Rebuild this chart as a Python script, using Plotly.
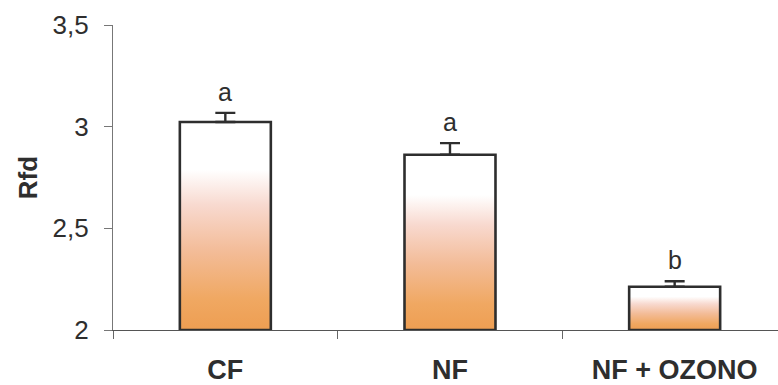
import plotly.graph_objects as go

# Data
categories = ["CF", "NF", "NF + OZONO"]
rfd_mean = [3.023, 2.862, 2.213]
rfd_err = [0.045, 0.057, 0.027]
letters = ["a", "a", "b"]
y_ticks = [2, 2.5, 3, 3.5]

BASE = 2.0
BAR_W = 0.405
INK = "#2e2e2e"
FONT = "Liberation Sans, Arial, sans-serif"

# white at the top fading through pink into orange at the bottom
gradient = [
    [0.0, "#EE9E52"],
    [0.15, "#F0A862"],
    [0.38, "#F3BC98"],
    [0.6, "#F8D9CF"],
    [0.77, "#FFFFFF"],
    [1.0, "#FFFFFF"],
]

fig = go.Figure()

# each bar is a filled rectangle so it can carry a vertical gradient
for i, v in enumerate(rfd_mean):
    x0, x1 = i - BAR_W / 2, i + BAR_W / 2
    fig.add_trace(go.Scatter(
        x=[x0, x0, x1, x1, x0],
        y=[BASE, v, v, BASE, BASE],
        mode="lines",
        fill="toself",
        fillgradient=dict(type="vertical", colorscale=gradient),
        line=dict(color=INK, width=2.6),
        hoverinfo="skip",
        showlegend=False,
    ))

# upper error bars
fig.add_trace(go.Scatter(
    x=list(range(len(categories))),
    y=rfd_mean,
    mode="markers",
    marker=dict(size=1, opacity=0),
    error_y=dict(type="data", array=rfd_err, arrayminus=[0] * len(rfd_err),
                 symmetric=False, width=10, thickness=2.4, color=INK),
    showlegend=False,
))

# significance letters
for i, (v, e, t) in enumerate(zip(rfd_mean, rfd_err, letters)):
    fig.add_annotation(x=i, y=v + e, text=t, showarrow=False,
                       yanchor="bottom", yshift=5,
                       font=dict(family=FONT, size=25, color=INK))

fig.update_layout(
    width=778, height=385,
    margin=dict(l=113, r=0, t=25, b=55),
    paper_bgcolor="white", plot_bgcolor="white",
    separators=",.",
    font=dict(family=FONT, color=INK),
)

fig.update_xaxes(
    range=[-0.5, 2.46],
    tickvals=list(range(len(categories))),
    ticktext=categories,
    ticks="", ticklen=0,
    tickfont=dict(family=FONT, size=27, color=INK, weight="bold"),
    ticklabelstandoff=15,
    minor=dict(tickvals=[-0.5, 0.5, 1.5], ticks="outside", ticklen=8,
               tickwidth=1, tickcolor="#666", showgrid=False),
    showline=True, linecolor="#555", linewidth=1.2,
    showgrid=False, zeroline=False,
)

fig.update_yaxes(
    range=[2, 3.5],
    tickvals=y_ticks,
    ticks="outside", ticklen=8, tickwidth=1, tickcolor="#777",
    tickfont=dict(family=FONT, size=26, color=INK),
    ticklabelstandoff=10,
    showline=True, linecolor="#777", linewidth=1.2,
    showgrid=False, zeroline=False,
    title=dict(text="Rfd", font=dict(family=FONT, size=26, color=INK, weight="bold"),
               standoff=7),
)

fig.write_html("out.html")
